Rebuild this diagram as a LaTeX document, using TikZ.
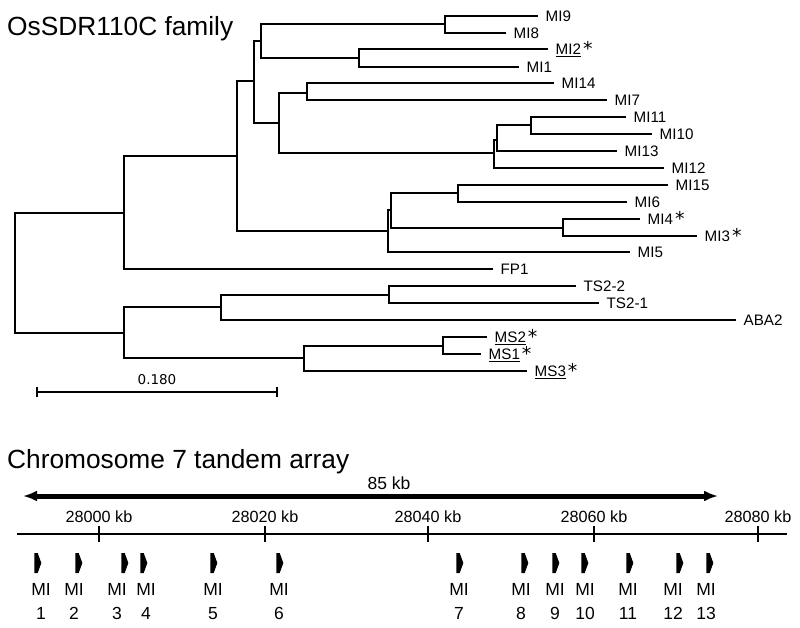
\documentclass[tikz,border=0pt]{standalone}
\usepackage{fontspec}
\setmainfont{Liberation Sans}
\newfontfamily\scalefont{DejaVu Sans}
\usetikzlibrary{arrows.meta,shapes.symbols}
\tikzset{
  br/.style={line width=1.8pt, line cap=rect},
  leaf/.style={anchor=west, inner xsep=8.5pt, inner ysep=0pt, text height=12.8pt, text depth=2pt, font=\fontsize{15.2}{15.2}\selectfont},
  ttl/.style={anchor=base west, inner sep=0pt, font=\fontsize{26.3}{26.3}\selectfont},
  ticklab/.style={anchor=base, inner sep=0pt, font=\fontsize{16.2}{16.2}\selectfont},
  gene/.style={signal, signal to=east, signal pointer angle=140, fill=black, draw=none, minimum width=7pt, minimum height=20pt, inner sep=0pt},
  glab/.style={anchor=base, inner sep=0pt, font=\fontsize{17.5}{17.5}\selectfont},
}
\newcommand{\astr}{\hspace{2pt}\raisebox{-1pt}[8pt][0pt]{\scalefont\fontsize{19}{19}\selectfont *}}
\begin{document}
\begin{tikzpicture}[x=1pt,y=-1pt]
\useasboundingbox (0,0) rectangle (800,628);
% title
\node[ttl] (title) at (7,36) {OsSDR110C family};
% internal nodes
\coordinate (r0) at (15,273);
\coordinate (nA) at (124,213);
\coordinate (nB) at (237,156);
\coordinate (nC) at (254,81);
\coordinate (nD) at (261,41);
\coordinate (nE) at (445,24);
\coordinate (nF) at (359,58);
\coordinate (nH) at (279,123);
\coordinate (nI) at (307,93);
\coordinate (nJ) at (494,153);
\coordinate (nK) at (497,140);
\coordinate (nL) at (531,125);
\coordinate (nM) at (388,231);
\coordinate (nN) at (391,210);
\coordinate (nO) at (458,193);
\coordinate (nP) at (563,228);
\coordinate (nQ) at (124,333);
\coordinate (nR) at (221,307);
\coordinate (nT) at (389,295);
\coordinate (nS) at (304,358);
\coordinate (nU) at (443,346);
% leaves
\node[leaf] (mi9) at (537,16) {MI9};
\node[leaf] (mi8) at (505,33) {MI8};
\node[leaf] (mi2) at (547,49) {\underline{MI2}\astr};
\node[leaf] (mi1) at (518,67) {MI1};
\node[leaf] (mi14) at (553,83) {MI14};
\node[leaf] (mi7) at (606,100) {MI7};
\node[leaf] (mi11) at (625,117) {MI11};
\node[leaf] (mi10) at (651,134) {MI10};
\node[leaf] (mi13) at (616,151) {MI13};
\node[leaf] (mi12) at (663,168) {MI12};
\node[leaf] (mi15) at (667,185) {MI15};
\node[leaf] (mi6) at (626,202) {MI6};
\node[leaf] (mi4) at (639,219) {MI4\astr};
\node[leaf] (mi3) at (696,236) {MI3\astr};
\node[leaf] (mi5) at (629,252) {MI5};
\node[leaf] (fp1) at (492,269) {FP1};
\node[leaf] (ts22) at (575,286) {TS2-2};
\node[leaf] (ts21) at (598,303) {TS2-1};
\node[leaf] (aba2) at (735,320) {ABA2};
\node[leaf] (ms2) at (486,337) {\underline{MS2}\astr};
\node[leaf] (ms1) at (480,354) {\underline{MS1}\astr};
\node[leaf] (ms3) at (526,371) {\underline{MS3}\astr};
% branches
\draw[br] (r0) |- (nA);
\draw[br] (r0) |- (nQ);
\draw[br] (nA) |- (nB);
\draw[br] (nA) |- (fp1.west);
\draw[br] (nB) |- (nC);
\draw[br] (nB) |- (nM);
\draw[br] (nC) |- (nD);
\draw[br] (nC) |- (nH);
\draw[br] (nD) |- (nE);
\draw[br] (nD) |- (nF);
\draw[br] (nE) |- (mi9.west);
\draw[br] (nE) |- (mi8.west);
\draw[br] (nF) |- (mi2.west);
\draw[br] (nF) |- (mi1.west);
\draw[br] (nH) |- (nI);
\draw[br] (nH) |- (nJ);
\draw[br] (nI) |- (mi14.west);
\draw[br] (nI) |- (mi7.west);
\draw[br] (nJ) |- (nK);
\draw[br] (nJ) |- (mi12.west);
\draw[br] (nK) |- (nL);
\draw[br] (nK) |- (mi13.west);
\draw[br] (nL) |- (mi11.west);
\draw[br] (nL) |- (mi10.west);
\draw[br] (nM) |- (nN);
\draw[br] (nM) |- (mi5.west);
\draw[br] (nN) |- (nO);
\draw[br] (nN) |- (nP);
\draw[br] (nO) |- (mi15.west);
\draw[br] (nO) |- (mi6.west);
\draw[br] (nP) |- (mi4.west);
\draw[br] (nP) |- (mi3.west);
\draw[br] (nQ) |- (nR);
\draw[br] (nQ) |- (nS);
\draw[br] (nR) |- (nT);
\draw[br] (nR) |- (aba2.west);
\draw[br] (nT) |- (ts22.west);
\draw[br] (nT) |- (ts21.west);
\draw[br] (nS) |- (nU);
\draw[br] (nS) |- (ms3.west);
\draw[br] (nU) |- (ms2.west);
\draw[br] (nU) |- (ms1.west);
% scale bar
\coordinate (sb1) at (37,392);
\coordinate (sb2) at (277,392);
\draw[line width=1.5pt] (sb1) -- (sb2);
\draw[line width=1.5pt] ([yshift=-5pt]sb1) -- ([yshift=5pt]sb1);
\draw[line width=1.5pt] ([yshift=-5pt]sb2) -- ([yshift=5pt]sb2);
\node[font=\scalefont\fontsize{13.5}{13.5}\selectfont, inner sep=0pt] (sblab) at (157,380) {0.180};
% chromosome
\node[ttl] (title2) at (7,468) {Chromosome 7 tandem array};
\coordinate (aL) at (23,496);
\coordinate (aR) at (718,496);
\draw[line width=5pt, {Latex[length=14pt,width=11pt]}-{Latex[length=14pt,width=11pt]}] (aL) -- (aR);
\node[anchor=base, inner sep=0pt, font=\fontsize{17.5}{17.5}\selectfont] (kb85) at (389,489) {85 kb};
\coordinate (axL) at (17,534);
\coordinate (axR) at (787,534);
\draw[line width=1.5pt] (axL) -- (axR);
\foreach \x/\t in {99/28000,265/28020,428/28040,594/28060,758/28080}{
  \draw[line width=1.5pt] (\x,526) -- (\x,542);
  \node[ticklab] at (\x,522) {\t\ kb};
}
\foreach \g/\gx/\lx in {1/36/41,2/77/74,3/123/117,4/142/146,5/212/213,6/278/279,7/458/459,8/523/521,9/554/555,10/583/585,11/628/628,12/678/673,13/708/706}{
  \node[gene] (g\g) at (\gx,563) {};
  \node[glab] (gm\g) at (\lx,595) {MI};
  \node[glab] (gn\g) at (\lx,619) {\g};
}
\end{tikzpicture}
\end{document}
